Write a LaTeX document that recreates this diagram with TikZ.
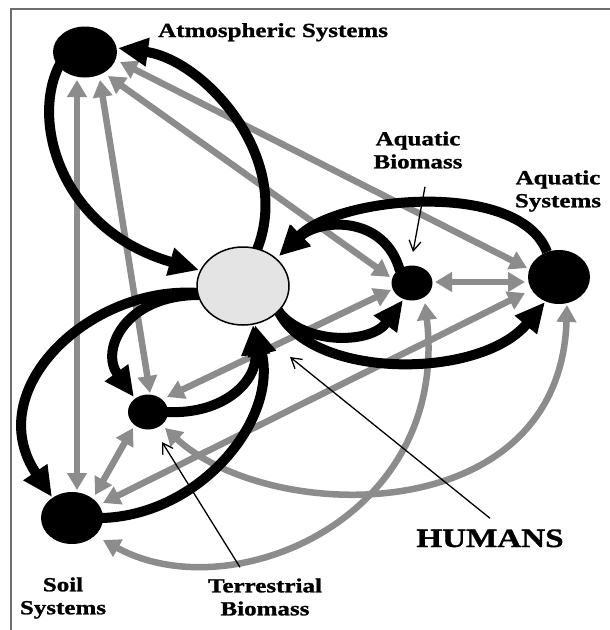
\documentclass[tikz,border=0pt]{standalone}
\usepackage{fontspec}
\setmainfont{Liberation Serif}[FakeStretch=1.25,BoldFeatures={FakeBold=1.2}]
\usetikzlibrary{arrows.meta,shapes.geometric,calc}
\pgfdeclarelayer{bg}
\pgfsetlayers{bg,main}
\definecolor{arrgray}{HTML}{8C8C8C}
\definecolor{humfill}{HTML}{E4E4E4}
\definecolor{framegray}{HTML}{6E6E6E}
\tikzset{
  sys/.style={ellipse, fill=black, inner sep=0pt},
  hum/.style={ellipse, fill=humfill, draw=black, line width=1.5pt, inner sep=0pt, minimum width=92pt, minimum height=78pt},
  flow/.style={line width=10pt, -{Triangle[length=30pt,width=27pt]}},
  link/.style={arrgray, line width=6.5pt, {Triangle[length=17pt,width=19pt]}-{Triangle[length=17pt,width=19pt]}},
  pointer/.style={line width=1.3pt, -{Straight Barb[length=10pt,width=12pt]}},
  lbl/.style={font=\bfseries\fontsize{20}{23}\selectfont, inner sep=0pt, align=center},
}
\begin{document}
\begin{tikzpicture}[x=1pt,y=-1pt]
\useasboundingbox (0,0) rectangle (610,630);

% nodes
\node[sys, minimum width=64pt, minimum height=51pt] (A) at (85,52) {};
\node[hum] (H) at (243,286) {};
\node[sys, minimum width=41pt, minimum height=35pt] (B) at (412,283) {};
\node[sys, minimum width=62pt, minimum height=54pt] (W) at (559,277) {};
\node[sys, minimum width=40pt, minimum height=35pt] (T) at (148,412) {};
\node[sys, minimum width=62pt, minimum height=52pt] (S) at (72,518) {};

% labels
\node[lbl, anchor=base west] (atm) at (158,37) {Atmospheric Systems};
\node[lbl] (aqb) at (418,150) {Aquatic\\Biomass};
\node[lbl] (aqs) at (558,191) {Aquatic\\Systems};
\node[lbl] (soil) at (63,598) {Soil\\Systems};
\node[lbl] (terr) at (265,597) {Terrestrial\\Biomass};
\node[font=\bfseries\fontsize{26.5}{30}\selectfont, inner sep=0pt, anchor=base] (hl) at (490,547) {HUMANS};

\begin{pgfonlayer}{bg}
\fill[white] (0,0) rectangle (610,630);
\draw[framegray, line width=2pt] (11,630) -- (11,9) -- (610,9);
% gray links
\draw[link] ($(A)+(-8,28)$) -- ($(S)+(5,-28)$);
\draw[link] ($(A)+(15,28)$) -- ($(T)+(2,-19)$);
\draw[link] ($(A)+(23,24)$) -- ($(B)+(-22,-6)$);
\draw[link] ($(A)+(35,10)$) -- ($(W)+(-32,-9)$);
\draw[link] ($(B)+(23,-1)$) -- ($(W)+(-34,5)$);
\draw[link] ($(T)+(19,-15)$) -- ($(B)+(-21,7)$);
\draw[link] ($(S)+(31,-15)$) -- ($(W)+(-34,16)$);
\draw[link] ($(T)+(-15,16)$) -- ($(S)+(23,-23)$);
\draw[link] ($(S)+(31,22)$) .. controls (230,610) and (450,520) .. ($(B)+(13,20)$);
\draw[link] ($(T)+(17,16)$) .. controls (270,525) and (560,530) .. ($(W)+(8,28)$);
% black flows
\draw[flow] ($(H)+(13,-34)$) .. controls (295,160) and (205,60) .. ($(A)+(33,-4)$);
\draw[flow] ($(A)+(-25,12)$) .. controls (30,120) and (60,230) .. ($(H)+(-44,-16)$);
\draw[flow] ($(W)+(-12,-25)$) .. controls (520,180) and (340,195) .. ($(H)+(36,-30)$);
\draw[flow] ($(B)+(-12,-12)$) .. controls (385,215) and (320,218) .. ($(H)+(36,-30)$);
\draw[flow] ($(H)+(33,22)$) .. controls (300,345) and (370,345) .. ($(B)+(-9,17)$);
\draw[flow] ($(H)+(35,24)$) .. controls (310,380) and (480,380) .. ($(W)+(-14,25)$);
\draw[flow] ($(H)+(-44,9)$) .. controls (125,295) and (100,350) .. ($(T)+(-14,-15)$);
\draw[flow] ($(H)+(-44,7)$) .. controls (90,285) and (-20,390) .. ($(S)+(-20,-21)$);
\draw[flow] ($(T)+(18,0)$) .. controls (225,415) and (258,380) .. ($(H)+(10,39)$);
\draw[flow] ($(S)+(30,0)$) .. controls (200,515) and (278,420) .. ($(H)+(12,39)$);
\end{pgfonlayer}

% pointers
\draw[pointer] ($(aqb.south)+(7,18)$) -- ($(B)+(1,-31)$);
\draw[pointer] ($(hl.north)+(0,-11)$) -- ($(H)+(47,71)$);
\draw[pointer] ($(terr.north)+(-25,-11)$) -- ($(T)+(14,30)$);
\end{tikzpicture}
\end{document}
